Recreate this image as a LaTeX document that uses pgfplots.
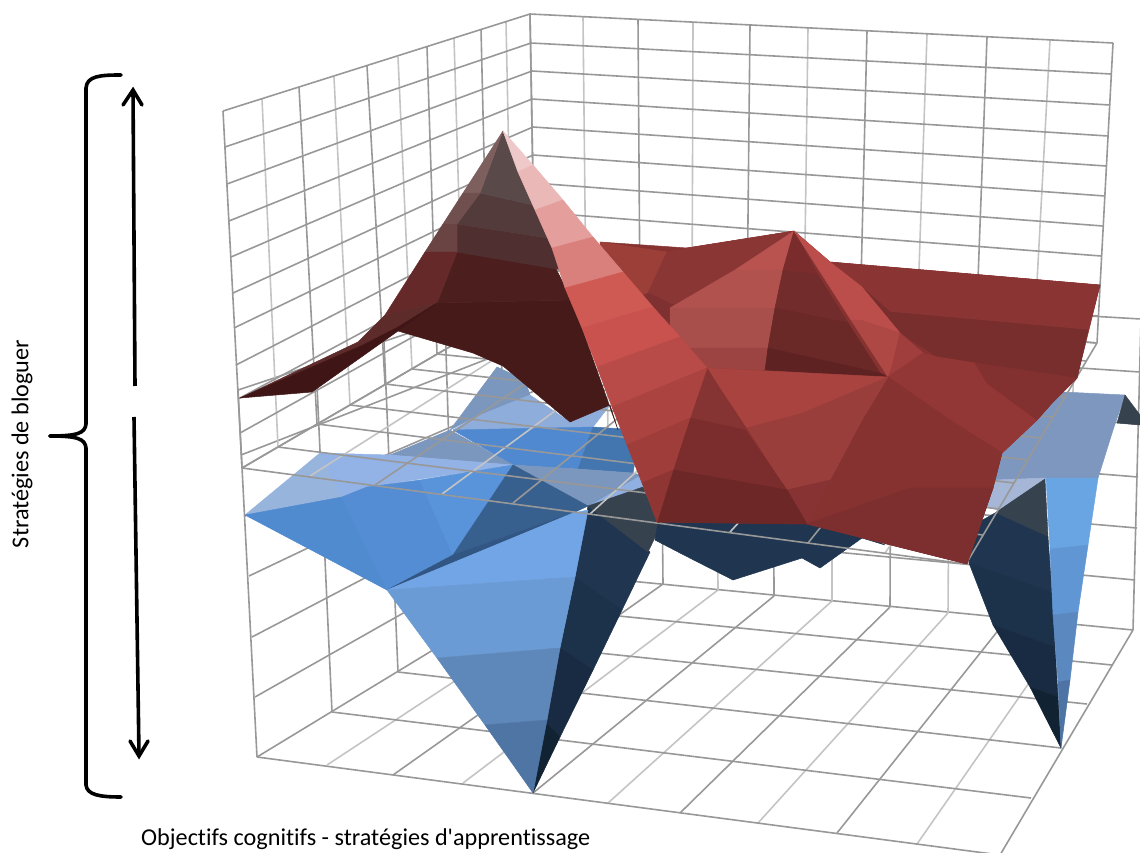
\documentclass[border=0pt]{standalone}
\usepackage{pgfplots}
\pgfplotsset{compat=1.18}
\usepackage{fontspec}
\newfontfamily\labelfont{Carlito}[Ligatures=NoCommon]
% one facet of a surface: hex colour, then its corners
\newcommand\facet[2]{\definecolor{c#1}{HTML}{#1}\addplot[fill=c#1,draw=c#1,line width=0.5pt,line join=round] coordinates {#2} -- cycle;}
\definecolor{griddark}{HTML}{989898}
\definecolor{gridlight}{HTML}{C4C4C4}
\pgfplotsset{
  dark/.style={griddark,line width=1.6pt,unbounded coords=jump},
  light/.style={gridlight,line width=1.6pt,unbounded coords=jump}}
\begin{document}
\begin{tikzpicture}
\useasboundingbox (0,0) rectangle (1140pt,852pt);
\begin{axis}[scale only axis,width=1140pt,height=852pt,xmin=0,xmax=1140,ymin=0,ymax=852,
  y dir=reverse,hide axis,clip=true]

% ---- lower chart: floor and walls ----
% floor, front-to-back lines
\addplot[dark] coordinates {(257,757)(558,574)(nan,nan)(393,775)(663,584)(nan,nan)(533,793)(774,596)(nan,nan)(680,813)(890,607)(nan,nan)(837,833)(1008,618)(nan,nan)(1000,855)(1133,630)};
\addplot[light] coordinates {(327,765)(610,579)(nan,nan)(463,783)(718,590)(nan,nan)(608,803)(832,601)(nan,nan)(758,823)(948,613)(nan,nan)(917,844)(1070,624)};
% floor, left-to-right lines
\addplot[dark] coordinates {(257,757)(1000,855)(nan,nan)(332,712)(1031,798)(nan,nan)(398,672)(1061,748)(nan,nan)(455,638)(1087,704)(nan,nan)(508,605)(1112,665)(nan,nan)(558,574)(1133,630)};
% left wall
\addplot[dark] coordinates {(257,757)(238,390)(nan,nan)(332,712)(316,364)(nan,nan)(398,672)(384,341)(nan,nan)(455,638)(445,320)(nan,nan)(508,605)(500,302)(nan,nan)(558,574)(553,285)};
\addplot[dark] coordinates {(255,697)(557,526)(nan,nan)(252,637)(556,478)(nan,nan)(249,576)(556,430)(nan,nan)(245,516)(555,382)(nan,nan)(241,455)(554,333)(nan,nan)(238,390)(553,285)};
% back wall
\addplot[dark] coordinates {(663,584)(660,291)(nan,nan)(774,596)(773,298)(nan,nan)(890,607)(891,305)(nan,nan)(1008,618)(1010,312)(nan,nan)(1133,630)(1141,319)};
\addplot[light] coordinates {(610,579)(606,288)(nan,nan)(718,590)(716,295)(nan,nan)(832,601)(832,301)(nan,nan)(948,613)(950,308)(nan,nan)(1070,624)(1074,316)};
\addplot[dark] coordinates {(557,526)(1135,580)(nan,nan)(556,478)(1137,528)(nan,nan)(556,430)(1138,477)(nan,nan)(555,382)(1139,424)(nan,nan)(554,333)(1140,372)(nan,nan)(553,285)(1141,319)};

% ---- lower surface (blue) ----
\facet{7B97BE}{(497,367)(525,380)(530,395)(473,418)(450,430)}
\facet{8FADDA}{(453,430)(473,418)(530,395)(570,422)(610,405)(593,427)}
\facet{5089CF}{(453,430)(593,427)(578,469)(513,465)}
\facet{4376AF}{(593,427)(640,430)(633,473)(578,469)}
\facet{7B97BE}{(390,455)(450,430)(513,465)}
\facet{7B97BE}{(513,465)(578,469)(633,473)(660,480)(588,506)}
\facet{97B4DD}{(245,515)(320,453)(342,497)}
\facet{93B3E6}{(320,453)(390,455)(513,465)(367,487)(342,497)}
\facet{508ACF}{(245,515)(342,497)(387,590)}
\facet{548DD3}{(342,497)(367,487)(420,480)(453,555)(387,590)}
\facet{5993D9}{(420,480)(513,465)(453,555)}
\facet{38608F}{(513,465)(588,506)(573,513)(453,555)}
\facet{315683}{(453,555)(573,513)(387,590)}
\facet{8FB0E0}{(588,507)(643,487)(660,480)(650,470)}
% front spike
\facet{1F3550}{(588,506)(650,552)(622,610)(575,577)}
\facet{1C314A}{(575,577)(622,610)(593,670)(560,648)}
\facet{182B42}{(560,648)(593,670)(560,737)(545,722)}
\facet{112233}{(545,722)(560,737)(533,793)}
\facet{37424F}{(588,506)(643,487)(660,527)(648,552)}
\facet{72A5E5}{(387,590)(573,513)(588,510)(575,577)}
\facet{6B9BD4}{(387,590)(575,577)(560,648)(437,658)}
\facet{5F88BA}{(437,658)(560,648)(547,720)(485,725)}
\facet{4F75A5}{(485,725)(547,720)(533,793)}
% underside in the middle
\facet{1F3550}{(655,540)(680,553)(733,580)(802,558)(820,568)(862,538)(885,545)(800,505)(660,510)}
% right part and right spike
\facet{7D97BF}{(1063,392)(1125,395)(1113,430)(1098,478)(1046,478)(995,480)(1000,450)}
\facet{A5B6D6}{(995,480)(1046,478)(1012,513)(985,507)}
\facet{37424F}{(1125,395)(1140,415)(1140,425)(1117,423)}
\facet{37424F}{(995,513)(1045,479)(1048,537)}
\facet{1F3550}{(965,530)(995,513)(1048,537)(1052,592)(969,563)}
\facet{1C314A}{(969,563)(1052,592)(1055,647)(993,625)}
\facet{182B42}{(993,625)(1055,647)(1058,697)(1030,687)}
\facet{112333}{(1030,687)(1058,697)(1061,748)}
\facet{6AA5E3}{(1046,478)(1098,478)(1088,545)(1050,549)}
\facet{6096D3}{(1050,549)(1088,545)(1078,612)(1053,615)}
\facet{5B88BF}{(1053,615)(1078,612)(1070,680)(1058,682)}
\facet{4D74A5}{(1058,682)(1070,680)(1061,748)}

% ---- upper chart: floor and walls ----
% floor, front-to-back lines
\addplot[dark] coordinates {(242,468)(535,297)(nan,nan)(375,485)(640,306)(nan,nan)(513,503)(747,314)(nan,nan)(660,523)(860,324)(nan,nan)(808,543)(976,333)(nan,nan)(966,564)(1097,343)};
\addplot[light] coordinates {(310,476)(586,301)(nan,nan)(442,494)(692,310)(nan,nan)(590,514)(804,319)(nan,nan)(730,532)(917,328)(nan,nan)(885,553)(1034,338)};
% floor, left-to-right lines
\addplot[dark] coordinates {(242,468)(966,564)(nan,nan)(278,447)(983,535)(nan,nan)(317,424)(999,509)(nan,nan)(350,405)(1014,483)(nan,nan)(385,384)(1028,460)(nan,nan)(412,369)(1041,438)(nan,nan)(437,354)(1053,417)(nan,nan)(463,339)(1065,397)(nan,nan)(488,324)(1076,378)(nan,nan)(512,310)(1087,361)(nan,nan)(535,297)(1097,343)};
% left wall
\addplot[dark] coordinates {(223,111)(242,468)(nan,nan)(299,87)(317,424)(nan,nan)(367,66)(385,384)(nan,nan)(427,47)(437,354)(nan,nan)(481,29)(488,324)(nan,nan)(530,14)(535,297)};
\addplot[light] coordinates {(262,99)(278,447)(nan,nan)(334,77)(350,405)(nan,nan)(398,57)(412,369)(nan,nan)(454,38)(463,339)(nan,nan)(506,22)(512,310)};
\addplot[dark] coordinates {(223,111)(530,14)(nan,nan)(225,147)(531,43)(nan,nan)(227,184)(532,71)(nan,nan)(229,221)(532,99)(nan,nan)(231,257)(533,127)(nan,nan)(233,293)(533,155)(nan,nan)(234,328)(534,183)(nan,nan)(236,365)(534,212)(nan,nan)(238,399)(534,240)(nan,nan)(240,433)(535,269)(nan,nan)(242,468)(535,297)};
% back wall
\addplot[dark] coordinates {(530,14)(535,297)(nan,nan)(638,19)(640,306)(nan,nan)(750,25)(747,314)(nan,nan)(867,31)(860,324)(nan,nan)(987,37)(976,333)(nan,nan)(1113,43)(1097,343)};
\addplot[light] coordinates {(583,17)(586,301)(nan,nan)(693,22)(692,310)(nan,nan)(808,28)(804,319)(nan,nan)(927,34)(917,328)(nan,nan)(1050,40)(1034,338)};
\addplot[dark] coordinates {(530,14)(1113,43)(nan,nan)(531,43)(1111,74)(nan,nan)(532,71)(1110,105)(nan,nan)(532,99)(1108,136)(nan,nan)(533,127)(1106,166)(nan,nan)(533,155)(1105,196)(nan,nan)(534,183)(1103,226)(nan,nan)(534,212)(1101,256)(nan,nan)(534,240)(1100,286)(nan,nan)(535,269)(1098,316)(nan,nan)(535,297)(1097,343)};

% ---- upper surface (red) ----
% base of the whole sheet, so that neighbouring facets close up
\facet{853231}{(600,242)(687,248)(794,231)(830,262)(1100,285)(1077,378)(1052,403)(1037,420)(1002,453)(993,488)(967,564)(807,524)(657,522)}
% rear right plane
\facet{8A3534}{(830,262)(1100,285)(1088,330)(890,312)(862,287)}
\facet{782E2D}{(862,287)(890,312)(1088,330)(1077,378)(938,357)(900,333)}
% rear left plane
\facet{9C3F39}{(600,242)(667,252)(648,293)(610,300)}
\facet{8A3634}{(667,252)(687,248)(794,231)(680,308)(648,293)}
\facet{7F3030}{(648,293)(680,308)(670,348)(620,330)}
% second peak, sunlit side
\facet{B85350}{(794,231)(735,270)(783,270)}
\facet{B2524E}{(735,270)(783,270)(775,308)(670,308)}
\facet{A84E4B}{(670,308)(775,308)(768,348)(670,348)}
\facet{9B4441}{(670,348)(768,348)(765,370)(707,368)}
% second peak, shaded side
\facet{7A2C2C}{(794,231)(783,270)(818,275)}
\facet{722C2B}{(783,270)(818,275)(848,323)(775,308)}
\facet{6A2827}{(775,308)(848,323)(880,373)(768,348)}
\facet{5F2222}{(768,348)(880,373)(888,377)(765,370)}
% second peak, right flank
\facet{BB4D4B}{(794,231)(830,262)(862,287)(900,333)(860,320)(851,320)}
\facet{AD4845}{(851,320)(860,320)(900,333)(892,367)(888,377)}
\facet{9F3E3C}{(900,333)(923,353)(888,377)(892,367)}
% front right
\facet{933736}{(888,377)(923,353)(938,357)(975,363)(987,383)(1037,420)(1002,453)(950,420)}
\facet{833030}{(975,363)(1077,378)(1052,403)(1037,420)(987,383)}
\facet{853231}{(888,377)(950,420)(1002,453)(993,488)(910,488)(807,524)}
\facet{7D2F2F}{(807,524)(910,488)(993,488)(967,564)}
% front centre
\facet{A84340}{(707,368)(888,377)(803,413)(747,428)}
\facet{9A3E3C}{(747,428)(803,413)(888,377)(862,420)(830,480)(787,490)}
\facet{873333}{(787,490)(830,480)(807,524)}
\facet{863433}{(707,368)(690,418)(745,430)}
\facet{7A2D2C}{(690,418)(745,430)(787,490)(673,470)}
\facet{6C2726}{(673,470)(787,490)(807,524)(657,522)}
% first peak, shaded side
\facet{451A19}{(437,303)(572,300)(618,430)(610,405)(570,422)(503,366)(473,353)(398,331)}
\facet{4C1F1E}{(457,252)(555,267)(572,300)(437,303)}
\facet{4F2F2F}{(457,224)(548,238)(562,270)(457,252)}
\facet{543B3B}{(480,193)(533,205)(548,238)(457,224)}
\facet{5A4949}{(503,131)(480,193)(533,205)}
\facet{7D5F5E}{(503,131)(480,193)(463,193)}
\facet{70504E}{(463,193)(480,193)(457,224)(443,224)}
\facet{6A4442}{(443,224)(457,224)(457,252)(425,252)}
\facet{642928}{(425,252)(457,252)(437,303)(385,315)}
% tail towards the left
\facet{5E2B2B}{(240,398)(358,342)(385,315)(437,303)(398,327)(363,345)}
\facet{3F1516}{(240,398)(363,345)(398,327)(437,303)(398,331)(312,392)}
% first peak, lit side
\facet{EFC9C9}{(503,131)(533,165)(518,172)}
\facet{EAB8B6}{(518,172)(533,165)(563,200)(535,210)}
\facet{E49F9D}{(535,210)(563,200)(593,237)(552,248)}
\facet{D97F7C}{(552,248)(593,237)(623,272)(565,288)}
\facet{CF5A54}{(565,288)(623,272)(653,307)(582,328)}
\facet{C9524F}{(582,328)(653,307)(680,337)(597,367)}
\facet{B84B48}{(597,367)(680,337)(707,368)(612,407)}
\facet{AB4340}{(612,407)(707,368)(690,418)(627,445)}
\facet{9F3D3B}{(627,445)(690,418)(673,470)(642,483)}
\facet{8F3635}{(642,483)(673,470)(657,522)}
\end{axis}

% ---- annotations ----
\begin{scope}[x=1pt,y=-1pt,yshift=852pt]
\draw[line width=3.6pt,line cap=round] (121,75) .. controls (100,75) and (87,76) .. (86,88)
  -- (86,424) .. controls (85,433) and (78,436) .. (50,436);
\draw[line width=3.6pt,line cap=round] (50,436) .. controls (78,436) and (85,439) .. (86,448)
  -- (86,785) .. controls (87,795) and (100,797) .. (121,797);
\draw[line width=3.6pt] (135,386) -- (133,90);
\draw[line width=3.6pt,line cap=round,line join=miter] (123,105) -- (133,90) -- (142,105);
\draw[line width=3.6pt] (134,417) -- (139,755);
\draw[line width=3.6pt,line cap=round,line join=miter] (130,741) -- (139,756) -- (148,741);
\node[rotate=90,font=\labelfont\fontsize{24.2}{28}\selectfont] at (22,444) {Stratégies de bloguer};
\node[anchor=base west,inner sep=0pt,font=\labelfont\fontsize{24.2}{28}\selectfont] at (141,845) {Objectifs cognitifs - stratégies d'apprentissage};
\end{scope}
\end{tikzpicture}
\end{document}
